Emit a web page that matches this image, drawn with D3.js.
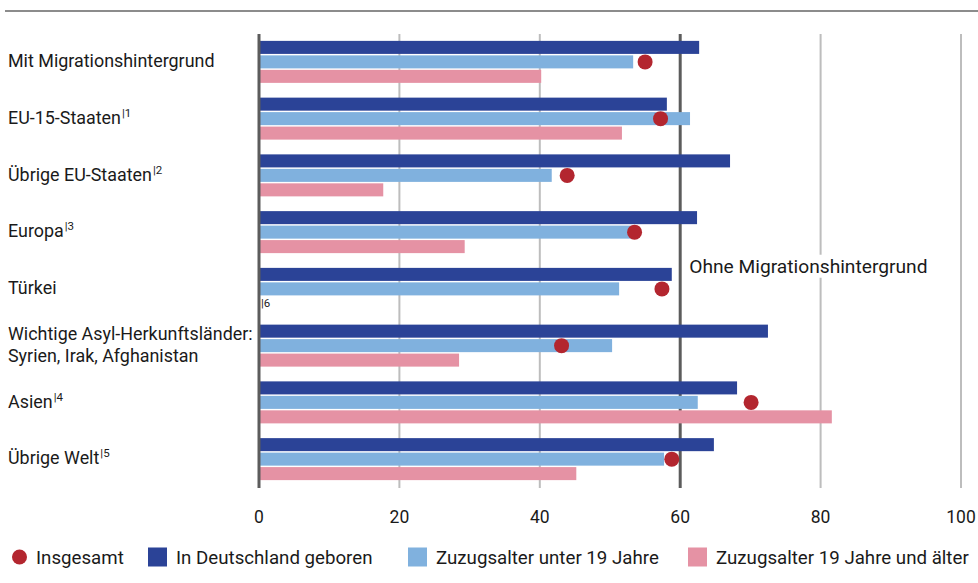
<!DOCTYPE html>
<html lang="de">
<head>
<meta charset="UTF-8">
<title>Migrationshintergrund</title>
<script src="https://cdn.jsdelivr.net/npm/d3@7"></script>
<style>
  body { margin: 0; background: #fff; }
  svg { display: block; font-family: Roboto, sans-serif; }
</style>
</head>
<body>
<svg id="chart" width="978" height="583"></svg>
<script>
// categories (label lines + footnote number)
const categories = ["mig", "eu15", "eu", "europa", "tuerkei", "asyl", "asien", "welt"];
const labelLines = [
  ["Mit Migrationshintergrund"],
  ["EU-15-Staaten"],
  ["Übrige EU-Staaten"],
  ["Europa"],
  ["Türkei"],
  ["Wichtige Asyl-Herkunftsländer:", "Syrien, Irak, Afghanistan"],
  ["Asien"],
  ["Übrige Welt"]
];
const labelNotes = ["", "1", "2", "3", "", "", "4", "5"];

// values in percent
const geboren   = [62.7, 58.1, 67.1, 62.4, 58.8, 72.5, 68.1, 64.8];
const unter19   = [53.3, 61.4, 41.7, 53.0, 51.3, 50.3, 62.5, 57.7];
const ab19      = [40.2, 51.7, 17.7, 29.3, null, 28.5, 81.6, 45.2];
const insgesamt = [55.0, 57.2, 43.9, 53.5, 57.4, 43.1, 70.1, 58.8];
const ohneMigration = 60;

const xTicks = [0, 20, 40, 60, 80, 100];
const seriesKeys = ["geboren", "unter19", "ab19"];
const seriesNames = ["In Deutschland geboren", "Zuzugsalter unter 19 Jahre", "Zuzugsalter 19 Jahre und älter"];
const seriesValues = [geboren, unter19, ab19];
const colors = ["#2b4397", "#80b1de", "#e592a4"];
const dotColor = "#b3262f";

const svg = d3.select("#chart");

const x = d3.scaleLinear().domain([0, 100]).range([259, 961]);
const y0 = d3.scaleBand().domain(categories).range([33.5, 487.5]).paddingInner(0.26).paddingOuter(0.13);
const y1 = d3.scaleBand().domain(seriesKeys).range([0, y0.bandwidth()]).paddingInner(0.1);

// top rule
svg.append("line")
  .attr("x1", 5).attr("x2", 978).attr("y1", 11).attr("y2", 11)
  .attr("stroke", "#8c8c8c").attr("stroke-width", 2);

// grid
svg.append("g")
  .selectAll("line")
  .data(xTicks.filter(t => t !== 0 && t !== ohneMigration))
  .join("line")
  .attr("x1", d => x(d)).attr("x2", d => x(d))
  .attr("y1", 34).attr("y2", 488)
  .attr("stroke", "#bdbdbd").attr("stroke-width", 2);

// reference line 60 (ohne Migrationshintergrund)
svg.append("line")
  .attr("x1", x(ohneMigration)).attr("x2", x(ohneMigration))
  .attr("y1", 34).attr("y2", 488)
  .attr("stroke", "#5c5c5c").attr("stroke-width", 3);

// bars
const groups = svg.append("g")
  .selectAll("g")
  .data(categories)
  .join("g")
  .attr("transform", d => `translate(0,${y0(d)})`);

groups.each(function(cat, i) {
  const g = d3.select(this);
  seriesKeys.forEach((key, s) => {
    const v = seriesValues[s][i];
    if (v == null) return;
    g.append("rect")
      .attr("x", x(0))
      .attr("y", y1(key))
      .attr("width", x(v) - x(0))
      .attr("height", y1.bandwidth())
      .attr("fill", colors[s]);
  });
});

// footnote for missing bar (Türkei)
svg.append("text")
  .attr("x", x(0) + 2)
  .attr("y", y0("tuerkei") + y1("ab19") + y1.bandwidth() / 2)
  .attr("dy", "0.35em")
  .attr("font-size", 11.5)
  .attr("fill", "#222")
  .text("|6");

// zero axis line
svg.append("line")
  .attr("x1", x(0)).attr("x2", x(0))
  .attr("y1", 34).attr("y2", 488)
  .attr("stroke", "#5c5c5c").attr("stroke-width", 3);

// dots (Insgesamt)
svg.append("g")
  .selectAll("circle")
  .data(categories)
  .join("circle")
  .attr("cx", (d, i) => x(insgesamt[i]))
  .attr("cy", d => y0(d) + y1("unter19") + y1.bandwidth() / 2)
  .attr("r", 7.5)
  .attr("fill", dotColor);

// label for reference line
const refLabel = svg.append("g");
const refText = refLabel.append("text")
  .attr("x", x(ohneMigration) + 9)
  .attr("y", 266)
  .attr("dy", "0.35em")
  .attr("font-size", 19.2)
  .attr("fill", "#1a1a1a")
  .text("Ohne Migrationshintergrund");
const bb = refText.node().getBBox();
refLabel.insert("rect", "text")
  .attr("x", bb.x - 2).attr("y", bb.y)
  .attr("width", bb.width + 4).attr("height", bb.height)
  .attr("fill", "#fff");

// category labels
const labels = svg.append("g")
  .selectAll("text")
  .data(categories)
  .join("text")
  .attr("x", 8)
  .attr("font-size", 17.9)
  .attr("fill", "#1a1a1a");

labels.each(function(cat, i) {
  const t = d3.select(this);
  const lines = labelLines[i];
  const cy = y0(cat) + y0.bandwidth() / 2 - 1;
  const lh = 22;
  lines.forEach((ln, k) => {
    t.append("tspan")
      .attr("x", 8)
      .attr("y", cy + (k - (lines.length - 1) / 2) * lh)
      .attr("dy", "0.35em")
      .text(ln);
  });
  if (labelNotes[i]) {
    t.append("tspan")
      .attr("font-size", 11.5)
      .attr("dy", "-0.6em")
      .attr("dx", 1)
      .text("|" + labelNotes[i]);
  }
});

// x axis tick labels
svg.append("g")
  .selectAll("text")
  .data(xTicks)
  .join("text")
  .attr("x", d => x(d))
  .attr("y", 517)
  .attr("dy", "0.35em")
  .attr("text-anchor", "middle")
  .attr("font-size", 17.5)
  .attr("fill", "#1a1a1a")
  .text(d => d);

// legend
const legendY = 557;
const legend = svg.append("g");
legend.append("circle")
  .attr("cx", 19.5).attr("cy", legendY).attr("r", 7.5).attr("fill", dotColor);
legend.append("text")
  .attr("x", 36).attr("y", legendY).attr("dy", "0.35em")
  .attr("font-size", 18.7).attr("fill", "#1a1a1a")
  .text("Insgesamt");
const legendX = [148, 408, 688];
seriesNames.forEach((name, s) => {
  legend.append("rect")
    .attr("x", legendX[s]).attr("y", legendY - 9.5)
    .attr("width", 19).attr("height", 19)
    .attr("fill", colors[s]);
  legend.append("text")
    .attr("x", legendX[s] + 28).attr("y", legendY).attr("dy", "0.35em")
    .attr("font-size", 18.7).attr("fill", "#1a1a1a")
    .text(name);
});
</script>
</body>
</html>
